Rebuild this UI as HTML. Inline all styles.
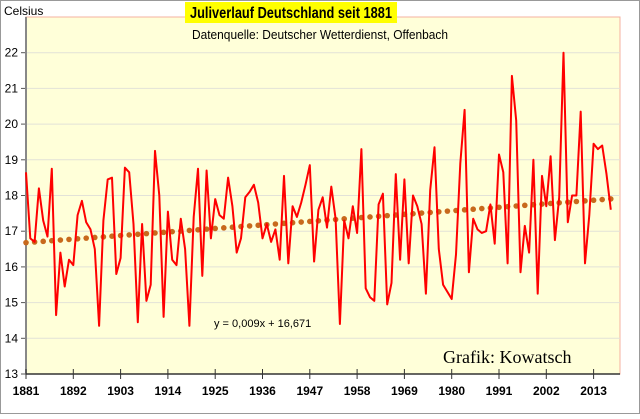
<!DOCTYPE html>
<html><head><meta charset="utf-8"><style>
body{margin:0;background:#fff;}
svg text{font-family:"Liberation Sans",sans-serif;}
</style></head><body>
<svg width="640" height="414" xmlns="http://www.w3.org/2000/svg">
<rect x="0.5" y="0.5" width="639" height="413" fill="#fff" stroke="#999"/>
<rect x="26" y="17" width="594" height="357" fill="#ffffd9" stroke="#f4b0a0"/>
<g id="grid"></g>
<g id="axes"></g>
<g id="trend"></g>
<polyline id="line" fill="none" stroke="#ff0000" stroke-width="2" stroke-linejoin="round"/>
<text x="4" y="15" font-size="12">Celsius</text>
<rect x="185" y="2" width="212" height="21" fill="#ffff00"/>
<text x="291" y="18" font-size="16" font-weight="bold" text-anchor="middle" textLength="202" lengthAdjust="spacingAndGlyphs">Juliverlauf Deutschland seit 1881</text>
<text x="320" y="39" font-size="13" text-anchor="middle" textLength="256" lengthAdjust="spacingAndGlyphs">Datenquelle: Deutscher Wetterdienst, Offenbach</text>
<text x="214" y="327" font-size="11">y = 0,009x + 16,671</text>
<text x="443" y="363" font-size="18" style="font-family:'Liberation Serif',serif">Grafik: Kowatsch</text>
</svg>
<script>
const startYear = 1881;
const temps = [18.65,16.8,16.7,18.2,17.3,16.85,18.75,14.65,16.4,15.45,16.2,16.05,17.45,17.85,17.25,17.05,16.5,14.35,17.3,18.45,18.5,15.8,16.25,18.78,18.65,17.2,14.45,17.2,15.05,15.5,19.25,18.0,14.6,17.55,16.2,16.05,17.35,16.5,14.35,17.4,18.75,15.75,18.7,16.8,17.9,17.45,17.35,18.5,17.7,16.4,16.8,17.95,18.1,18.3,17.8,16.8,17.2,16.7,17.05,16.2,18.55,16.1,17.7,17.4,17.8,18.3,18.85,16.15,17.6,17.95,17.1,18.25,17.35,14.4,17.3,16.8,17.7,16.95,19.3,15.4,15.15,15.05,17.75,18.05,14.95,15.55,18.6,16.2,18.45,16.1,18.0,17.7,17.2,15.25,18.15,19.35,16.5,15.5,15.3,15.1,16.35,18.9,20.4,15.85,17.35,17.05,16.95,17.0,17.75,16.65,19.15,18.65,16.1,21.35,20.1,15.85,17.15,16.4,19.0,15.25,18.55,17.7,19.1,16.75,17.95,22.0,17.25,18.0,18.0,20.35,16.1,17.45,19.45,19.3,19.4,18.6,17.6];
const yTicks = [13,14,15,16,17,18,19,20,21,22];
const xTickYears = [1881,1892,1903,1914,1925,1936,1947,1958,1969,1980,1991,2002,2013];
const trendSlope = 0.009;
const trendIntercept = 16.671;
const NS='http://www.w3.org/2000/svg';
function X(i){return 26+i*4.3;}
function Y(v){return 374-(v-13)*35.7;}
function mk(tag,attrs,parent){const e=document.createElementNS(NS,tag);for(const k in attrs)e.setAttribute(k,attrs[k]);parent.appendChild(e);return e;}
const grid=document.getElementById('grid'),axes=document.getElementById('axes'),trend=document.getElementById('trend');
yTicks.forEach(v=>{
  if(v>13){const l=mk('line',{x1:26,x2:620,y1:Y(v),y2:Y(v),stroke:'#e2e2d8','stroke-width':1},grid);
  
  }
  const t=mk('line',{x1:21,x2:26,y1:Y(v),y2:Y(v),stroke:'#555'},axes);
  
  
  const tx=mk('text',{x:18,y:Y(v)+4,'font-size':12,'text-anchor':'end'},axes);tx.textContent=v;
  
  
});
const ya=mk('line',{x1:26,x2:26,y1:17,y2:374,stroke:'#888','stroke-width':2},axes);


const xa=mk('line',{x1:26,x2:620,y1:374,y2:374,stroke:'#333','stroke-width':1.5},axes);


xTickYears.forEach(yr=>{
  const x=X(yr-startYear);
  const t=mk('line',{x1:x,x2:x,y1:369,y2:379,stroke:'#333'},axes);
  
  
  const tx=mk('text',{x:x,y:395,'font-size':12,'font-weight':'bold','text-anchor':'middle'},axes);tx.textContent=yr;
  
  
});
for(let i=0;i<temps.length;i+=2){
  const c=mk('circle',{cx:X(i),cy:Y(trendIntercept+trendSlope*(i+1)),r:2.8,fill:'#c8691c'},trend);
  
  
}
document.getElementById('line').setAttribute('points',temps.map((v,i)=>X(i)+','+Y(v)).join(' '));
</script>
</body></html>
